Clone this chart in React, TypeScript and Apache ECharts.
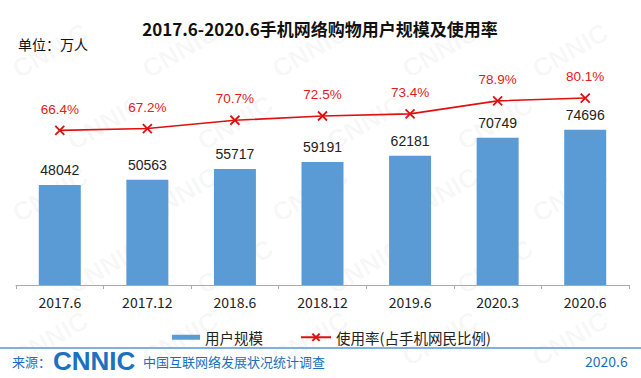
import React, { useEffect, useRef } from "react";
import * as echarts from "echarts";

const categories = ["2017.6", "2017.12", "2018.6", "2018.12", "2019.6", "2020.3", "2020.6"];
const users = [48042, 50563, 55717, 59191, 62181, 70749, 74696];
const rate = [66.4, 67.2, 70.7, 72.5, 73.4, 78.9, 80.1];

const titleText = "2017.6-2020.6手机网络购物用户规模及使用率";
const unitText = "单位：万人";
const barName = "用户规模";
const lineName = "使用率(占手机网民比例)";
const sourceLabel = "来源：";
const sourceLogo = "CNNIC";
const sourceName = "中国互联网络发展状况统计调查";
const sourceDate = "2020.6";

const FONT = "'Noto Sans CJK SC', 'Liberation Sans', Arial, sans-serif";
const LATIN = "'Liberation Sans', Arial, sans-serif";

export default function App() {
  const ref = useRef<HTMLDivElement>(null);
  useEffect(() => {
    if (!ref.current) return;
    const chart = echarts.init(ref.current, undefined, { renderer: "svg" });

    const watermarks: any[] = [];
    for (let r = 0; r < 5; r++) {
      for (let c = 0; c < 5; c++) {
        watermarks.push({
          type: "text",
          x: 8 + c * 130 + (r % 2) * 55,
          y: 60 + r * 72,
          rotation: Math.PI / 6,
          silent: true,
          z: -10,
          style: {
            text: "CNNIC",
            fill: "rgba(0,0,0,0.035)",
            font: "bold 26px " + LATIN,
          },
        });
      }
    }
    const wm = watermarks.filter((w) => w.x < 560);

    chart.setOption({
      animation: false,
      backgroundColor: "#ffffff",
      legend: [
        {
          data: [barName],
          left: 167,
          top: 325,
          itemWidth: 28,
          itemHeight: 5,
          itemGap: 6,
          icon: "rect",
          textStyle: { fontSize: 14.5, color: "#222", fontFamily: FONT },
        },
        {
          data: [lineName],
          left: 295,
          top: 325,
          itemWidth: 30,
          itemHeight: 9,
          itemGap: 5,
          textStyle: { fontSize: 14.5, color: "#222", fontFamily: FONT },
        },
      ],
      grid: { left: 16, right: 12, top: 77, bottom: 93, containLabel: false },
      xAxis: {
        type: "category",
        data: categories,
        axisLine: { lineStyle: { color: "#aaaaaa", width: 1 } },
        axisTick: { show: true, length: 4, lineStyle: { color: "#aaaaaa" } },
        axisLabel: { fontSize: 14, color: "#222", margin: 10, fontFamily: FONT },
      },
      yAxis: [
        { type: "value", min: 0, max: 100000, show: false, splitLine: { show: false } },
        { type: "value", min: 1, max: 89, show: false, splitLine: { show: false } },
      ],
      series: [
        {
          name: barName,
          type: "bar",
          data: users,
          barWidth: 42,
          itemStyle: { color: "#5b9bd5" },
          label: {
            show: true,
            position: "top",
            distance: 8,
            fontSize: 14,
            color: "#222",
            fontFamily: LATIN,
          },
        },
        {
          name: lineName,
          type: "line",
          yAxisIndex: 1,
          data: rate,
          symbol: "path://M0,0L10,10M10,0L0,10",
          symbolSize: 9,
          lineStyle: { color: "#e01010", width: 1.6 },
          itemStyle: { color: "#e01010", borderColor: "#e01010", borderWidth: 1.8 },
          label: {
            show: true,
            position: "top",
            distance: 9,
            fontSize: 13.5,
            color: "#e02020",
            formatter: (p: any) => p.value.toFixed(1) + "%",
            fontFamily: LATIN,
          },
        },
      ],
      graphic: [
        ...wm,
        {
          type: "text",
          x: 320,
          y: 28,
          style: {
            text: titleText,
            fill: "#111",
            font: "bold 17px " + FONT,
            align: "center",
            verticalAlign: "middle",
          },
        },
        {
          type: "text",
          x: 18,
          y: 44,
          style: { text: unitText, fill: "#111", font: "14px " + FONT, verticalAlign: "middle" },
        },
        {
          type: "line",
          shape: { x1: 0, y1: 348, x2: 641, y2: 348 },
          style: { stroke: "#7fb0e0", lineWidth: 2 },
        },
        {
          type: "text",
          x: 12,
          y: 361,
          style: { text: sourceLabel, fill: "#1a6fc0", font: "13px " + FONT, verticalAlign: "middle" },
        },
        {
          type: "text",
          x: 53,
          y: 361,
          style: {
            text: sourceLogo,
            fill: "#1e70c0",
            font: "900 26px " + LATIN,
            verticalAlign: "middle",
          },
        },
        {
          type: "text",
          x: 143,
          y: 361,
          style: { text: sourceName, fill: "#1a6fc0", font: "13px " + FONT, verticalAlign: "middle" },
        },
        {
          type: "text",
          x: 585,
          y: 361,
          style: { text: sourceDate, fill: "#1a6fc0", font: "14px " + FONT, verticalAlign: "middle" },
        },
      ],
    });
    return () => chart.dispose();
  }, []);
  return (
    <div
      ref={ref}
      style={{ position: "fixed", left: 0, top: 0, width: 641, height: 378 }}
    />
  );
}
